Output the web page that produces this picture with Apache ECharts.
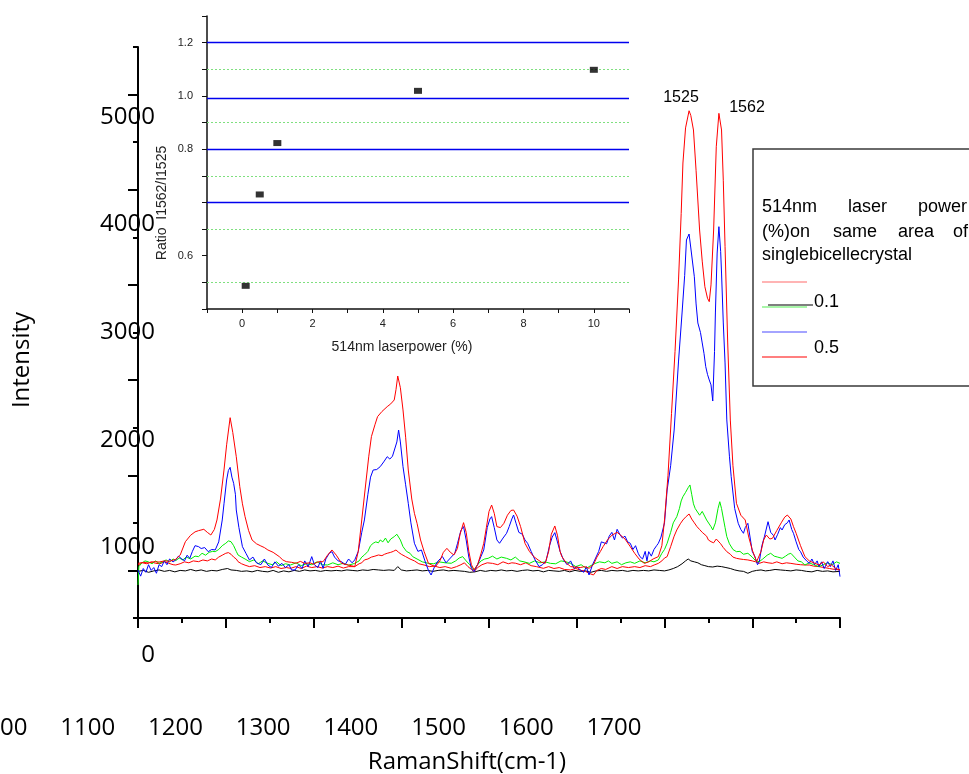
<!DOCTYPE html>
<html>
<head>
<meta charset="utf-8">
<script src="https://cdn.jsdelivr.net/npm/echarts@6/dist/echarts.min.js"></script>
<style>html,body{margin:0;padding:0;background:#fff}#c{width:969px;height:774px}</style>
</head>
<body>
<div id="c"></div>
<script>
// ---------- main spectra (Raman shift cm-1 -> intensity) ----------
const xLabelTicks = [1000, 1100, 1200, 1300, 1400, 1500, 1600, 1700];
const yLabelTicks = [0, 1000, 2000, 3000, 4000, 5000];

const redHiX = [900,906,912,918,924,930,936,943,948,954,960,965,969,975,979,983,987,990,994,998,1001,1005,1008,1012,1016,1019,1022,1026,1030,1035,1040,1044,1048,1054,1061,1065,1069,1075,1080,1085,1090,1096,1100,1105,1111,1116,1121,1126,1132,1138,1143,1147,1151,1155,1160,1163,1166,1170,1173,1178,1184,1188,1192,1194,1196,1199,1202,1205,1208,1212,1215,1218,1222,1226,1231,1235,1239,1244,1248,1252,1256,1260,1264,1267,1271,1274,1277,1280,1283,1287,1291,1294,1297,1300,1303,1306,1309,1313,1317,1321,1325,1328,1332,1336,1341,1346,1351,1356,1360,1364,1368,1371,1375,1378,1381,1383,1388,1393,1398,1404,1409,1414,1419,1423,1427,1430,1435,1440,1446,1450,1455,1461,1466,1471,1477,1482,1487,1493,1497,1500,1504,1508,1512,1516,1519,1521,1524,1528,1530,1533,1536,1540,1543,1546,1549,1551,1553,1556,1559,1562,1565,1567,1569,1572,1575,1578,1582,1587,1592,1596,1600,1605,1610,1613,1616,1620,1623,1628,1633,1637,1640,1644,1647,1650,1655,1660,1665,1670,1676,1681,1686,1690,1695,1700];
const redHiY = [574,585,578,592,588,600,596,617,660,802,870,905,918,932,900,872,930,1030,1250,1555,1820,2105,1950,1695,1380,1200,1065,920,820,780,757,740,715,690,645,610,592,585,575,595,574,580,565,590,592,660,715,660,574,560,550,540,700,1030,1450,1700,1906,2030,2116,2170,2221,2250,2291,2400,2543,2420,2186,1900,1555,1250,1100,995,820,700,574,555,540,600,690,732,690,662,730,880,1002,900,700,560,505,560,680,785,950,1120,1187,1100,960,950,995,1080,1130,1135,1070,960,785,700,645,610,585,574,700,880,967,870,700,645,580,540,535,530,540,522,560,640,700,750,820,870,900,870,830,750,680,620,574,590,620,645,760,1030,1500,2150,2800,3552,4250,4781,5150,5330,5280,5128,4700,4077,3750,3481,3360,3324,3500,4077,4952,5303,5128,4600,3902,2900,2080,1600,1205,1080,1030,850,715,592,700,820,872,830,837,920,1000,1060,1082,1040,960,890,760,645,600,580,557,590,540,560,520,505];

const blueX = [900,903,906,909,912,915,918,921,924,927,930,933,936,940,943,946,950,953,956,959,962,965,969,972,976,980,984,988,992,996,998,1001,1003,1005,1007,1009,1011,1012,1015,1019,1023,1027,1031,1035,1040,1044,1048,1052,1056,1060,1064,1068,1072,1075,1079,1083,1087,1090,1094,1098,1101,1105,1108,1111,1114,1118,1121,1124,1128,1132,1136,1140,1144,1147,1151,1155,1158,1162,1165,1168,1172,1176,1180,1184,1187,1190,1192,1195,1197,1199,1202,1205,1208,1211,1215,1219,1223,1227,1231,1234,1238,1242,1247,1251,1255,1257,1261,1264,1268,1271,1274,1277,1280,1283,1287,1291,1294,1298,1301,1303,1306,1309,1312,1316,1320,1323,1326,1328,1331,1334,1338,1341,1344,1348,1352,1357,1361,1365,1369,1372,1375,1378,1381,1385,1389,1393,1397,1400,1404,1408,1411,1414,1418,1421,1425,1428,1430,1434,1437,1440,1443,1446,1449,1452,1455,1458,1461,1464,1467,1470,1472,1475,1478,1480,1482,1485,1488,1491,1493,1496,1500,1503,1507,1511,1516,1520,1523,1525,1528,1530,1531,1534,1536,1538,1541,1543,1545,1547,1549,1551,1553,1555,1557,1558,1560,1562,1564,1565,1567,1569,1571,1574,1576,1580,1584,1587,1590,1592,1595,1598,1600,1603,1606,1608,1611,1614,1618,1621,1624,1626,1629,1632,1634,1637,1640,1642,1645,1647,1650,1653,1655,1658,1662,1665,1668,1671,1674,1676,1679,1682,1686,1689,1692,1695,1698,1700];
const blueY = [505,440,520,480,560,500,530,470,560,540,600,560,620,590,610,650,620,600,660,627,700,760,750,730,740,697,720,715,800,1030,1200,1450,1550,1583,1480,1415,1300,1135,950,750,680,610,640,580,560,620,557,530,590,545,574,530,560,505,505,560,520,600,540,645,560,530,600,522,620,680,697,640,600,592,560,620,580,610,700,900,1030,1300,1480,1555,1560,1590,1640,1695,1670,1700,1695,1850,1975,1850,1590,1400,1205,1000,785,700,715,600,500,452,540,600,645,580,620,610,680,780,920,960,820,640,520,487,560,650,715,950,1040,1065,950,820,785,840,890,960,1040,1082,990,900,880,820,785,700,620,540,560,600,760,850,897,800,700,610,560,600,520,540,505,480,540,452,560,620,700,800,820,780,860,900,820,932,880,840,860,800,785,720,760,680,645,620,700,600,697,650,720,760,785,850,1000,1345,1600,1975,2700,3205,3600,3972,4035,3888,3900,3586,3300,3100,3000,2890,2780,2641,2560,2501,2450,2280,2800,3205,3835,4112,3850,3625,3100,2680,2081,1700,1485,1150,995,930,890,950,995,820,700,645,560,592,760,860,1012,900,870,820,880,950,925,980,1000,1030,930,890,800,720,697,640,600,574,620,560,600,540,590,520,592,540,600,500,560,435];

const greenX = [900,901,904,908,912,916,920,924,928,932,936,940,943,947,951,955,960,965,969,973,977,981,985,988,992,996,1000,1003,1006,1009,1012,1014,1018,1022,1027,1032,1037,1042,1048,1053,1058,1063,1068,1074,1080,1086,1092,1098,1104,1110,1116,1122,1128,1134,1140,1147,1152,1155,1158,1162,1165,1168,1171,1174,1176,1179,1182,1185,1188,1192,1195,1197,1199,1202,1206,1210,1213,1218,1224,1231,1237,1243,1250,1257,1262,1266,1270,1274,1278,1283,1287,1291,1295,1299,1304,1309,1314,1320,1325,1330,1335,1340,1346,1352,1358,1364,1370,1376,1382,1388,1393,1399,1405,1411,1414,1420,1426,1432,1436,1440,1446,1451,1456,1461,1466,1472,1478,1484,1488,1493,1497,1500,1503,1507,1510,1514,1517,1519,1521,1524,1527,1529,1531,1533,1535,1537,1540,1543,1545,1548,1550,1553,1555,1558,1561,1563,1565,1567,1569,1571,1574,1578,1582,1586,1590,1595,1600,1604,1608,1612,1617,1621,1625,1629,1634,1638,1641,1644,1648,1652,1656,1660,1665,1670,1676,1681,1686,1691,1696,1700];
const greenY = [347,540,574,600,590,570,600,574,590,610,590,620,603,630,610,640,620,650,645,680,660,690,700,697,720,760,785,810,802,760,700,662,640,620,592,610,570,600,574,560,590,550,570,557,580,550,570,560,590,560,557,580,560,575,555,574,600,640,662,700,760,785,800,790,820,800,840,790,830,855,880,900,820,750,700,680,645,620,590,574,570,590,580,575,600,630,645,600,560,505,560,600,620,627,650,620,640,627,610,640,600,590,574,600,580,590,574,570,600,590,574,540,560,520,540,570,590,580,600,574,590,560,580,590,574,600,580,600,590,610,680,720,785,900,1000,1065,1150,1230,1275,1320,1370,1398,1300,1200,1150,1135,1080,1120,1100,1030,1050,960,925,1000,1150,1222,1150,1050,950,855,780,720,697,700,670,680,640,600,592,620,660,680,650,640,627,650,670,680,640,600,590,557,580,560,540,560,580,560,590,574];

const redLoX = [900,905,910,915,920,925,930,935,940,943,948,953,958,963,969,974,979,984,988,992,996,1000,1003,1006,1009,1012,1014,1018,1022,1027,1033,1039,1045,1051,1057,1063,1069,1074,1080,1086,1092,1098,1104,1110,1116,1122,1128,1134,1140,1147,1152,1155,1158,1162,1166,1170,1174,1178,1181,1184,1188,1191,1194,1197,1200,1205,1210,1215,1220,1226,1232,1238,1244,1250,1257,1263,1268,1272,1276,1280,1283,1287,1292,1298,1304,1310,1316,1322,1326,1330,1336,1342,1348,1354,1362,1368,1374,1380,1386,1393,1399,1405,1410,1414,1419,1423,1428,1433,1440,1446,1452,1459,1466,1472,1478,1484,1489,1493,1497,1500,1503,1507,1511,1514,1518,1521,1524,1528,1531,1534,1537,1540,1543,1545,1548,1550,1553,1556,1559,1561,1564,1567,1571,1575,1578,1582,1586,1590,1595,1600,1604,1608,1613,1618,1623,1628,1634,1639,1644,1650,1655,1660,1665,1670,1676,1682,1688,1694,1700];
const redLoY = [557,580,570,590,575,570,590,575,560,557,570,590,580,600,592,610,600,620,610,640,660,680,687,670,640,620,592,570,555,540,550,530,540,525,540,520,530,522,540,520,545,530,540,525,540,530,545,525,540,540,570,580,610,620,640,650,662,655,670,680,690,700,715,690,670,645,620,600,570,557,540,545,530,540,522,540,560,580,540,510,487,530,560,580,574,560,590,570,580,576,560,580,550,540,522,540,520,530,510,505,520,500,490,470,452,500,520,510,540,520,540,530,540,530,550,540,560,574,600,630,645,750,860,925,990,1030,1060,1093,1040,1000,960,930,900,890,860,820,802,790,830,820,780,740,697,670,640,627,620,615,610,600,590,574,590,580,574,590,570,580,574,565,560,557,557,545,540,530,520,510,505];

const blackX = [900,906,912,918,924,930,936,942,948,954,960,966,972,978,984,990,996,1002,1006,1012,1018,1024,1030,1036,1042,1048,1054,1060,1066,1072,1078,1084,1090,1096,1102,1108,1114,1120,1126,1132,1138,1144,1150,1156,1162,1168,1174,1180,1186,1192,1196,1200,1206,1212,1218,1224,1230,1236,1242,1248,1254,1260,1266,1272,1278,1284,1290,1296,1302,1308,1314,1320,1326,1332,1338,1344,1350,1356,1362,1368,1374,1380,1386,1392,1398,1404,1410,1416,1422,1428,1434,1440,1446,1452,1458,1464,1470,1476,1482,1488,1494,1500,1505,1510,1515,1520,1524,1527,1530,1534,1538,1542,1546,1550,1555,1560,1565,1570,1575,1580,1585,1590,1595,1600,1605,1610,1615,1620,1626,1632,1638,1644,1650,1656,1662,1668,1674,1680,1686,1692,1700];
const blackY = [490,500,480,495,505,490,500,485,500,495,510,495,505,490,500,495,510,520,505,500,490,495,485,500,490,485,500,480,495,485,500,490,505,495,500,490,500,495,500,495,505,500,495,505,500,510,505,500,505,500,540,505,495,500,505,495,500,490,500,505,495,500,495,490,480,485,500,490,500,495,505,495,500,490,500,505,495,500,485,500,495,490,500,485,500,490,495,480,495,500,490,500,495,500,490,500,495,500,495,505,500,495,505,520,540,570,600,620,600,590,580,560,550,540,536,545,540,530,520,505,495,490,470,490,500,505,495,500,510,505,500,495,505,500,490,485,500,490,495,485,490];

// ---------- inset: ratio vs laser power ----------
const insetPower = [0.1, 0.5, 1, 5, 10];
const insetRatio = [0.287, 0.630, 0.823, 1.019, 1.098];
const insetBlueLines = [1.2, 0.99, 0.8, 0.6];
const insetGreenLines = [1.1, 0.9, 0.7, 0.5, 0.3];
const insetXLabels = [0, 2, 4, 6, 8, 10];
// tick-label text drawn at each tick position (as in the source picture)
const insetYLabelAt = {12: '1.2', 10: '1.0', 8: '0.8', 4: '0.6'};

const pairs = (xs, ys) => xs.map((x, i) => [x, ys[i]]);
const lineSeries = (name, xs, ys, color) => ({
  type: 'line', name, xAxisIndex: 0, yAxisIndex: 0, data: pairs(xs, ys),
  showSymbol: false, symbol: 'none', lineStyle: {color, width: 1}, itemStyle: {color},
  animation: false, silent: true, clip: true
});

const hidden = {show: false};
const chart = echarts.init(document.getElementById('c'), null, {renderer: 'canvas'});
const black = '#000';
const mainFont = 'Open Sans';
const insetFont = 'Liberation Sans, Arial, sans-serif';
const lf = '18px "Liberation Sans"';
const legText = (x, y, t) => ({type: 'text', x, y, style: {text: t, font: lf, fill: black, verticalAlign: 'middle'}});
const legLine = (x1, x2, y, c) => ({type: 'line', shape: {x1, y1: y, x2, y2: y}, style: {stroke: c, lineWidth: 1.2}});

chart.setOption({
  animation: false,
  backgroundColor: '#fff',
  grid: [
    {left: 138, top: 47, width: 702, height: 571, outerBoundsMode: 'none', containLabel: false},   // main plot
    {left: 0, top: 600, width: 614, height: 104, outerBoundsMode: 'none', containLabel: false},    // x tick labels (shifted, as in source)
    {left: 157, top: 117, width: 600, height: 538, outerBoundsMode: 'none', containLabel: false},  // y tick labels (shifted, as in source)
    {left: 207, top: 16, width: 422, height: 293, outerBoundsMode: 'none', containLabel: false}    // inset
  ],
  xAxis: [
    {gridIndex: 0, type: 'value', min: 900, max: 1700, interval: 100,
     axisLine: {lineStyle: {color: black, width: 2}},
     axisTick: {length: 10, lineStyle: {color: black, width: 2}},
     minorTick: {show: true, splitNumber: 2, length: 5, lineStyle: {color: black, width: 2}},
     axisLabel: hidden, splitLine: hidden},
    {gridIndex: 1, type: 'value', min: xLabelTicks[0], max: xLabelTicks[xLabelTicks.length - 1], interval: 100,
     axisLine: hidden, axisTick: hidden, splitLine: hidden,
     axisLabel: {margin: 12, fontSize: 24, fontFamily: mainFont, color: black, formatter: v => String(v)}},
    {gridIndex: 2, type: 'value', show: false},
    {gridIndex: 3, type: 'value', min: -1, max: 11, interval: 1,
     axisLine: {onZero: false, lineStyle: {color: '#111', width: 1.5}},
     axisTick: {length: 4, lineStyle: {color: '#111'}},
     axisLabel: {margin: 9, fontSize: 11, fontFamily: insetFont, color: '#222',
       formatter: v => insetXLabels.includes(v) ? String(v) : ''},
     splitLine: hidden}
  ],
  yAxis: [
    {gridIndex: 0, type: 'value', min: 0, max: 6000, interval: 1000,
     axisLine: {show: true, lineStyle: {color: black, width: 2}},
     axisTick: {length: 5, lineStyle: {color: black, width: 2}},
     axisLabel: hidden, splitLine: hidden},
    {gridIndex: 0, type: 'value', min: 0, max: 6000, position: 'left',
     axisLine: hidden,
     axisTick: {show: true, length: 10, lineStyle: {color: black, width: 2},
       customValues: [500, 1500, 2500, 3500, 4500, 5500]},
     axisLabel: hidden, splitLine: hidden},
    {gridIndex: 1, type: 'value', show: false},
    {gridIndex: 2, type: 'value', min: yLabelTicks[0], max: yLabelTicks[yLabelTicks.length - 1], interval: 1000,
     axisLine: hidden, axisTick: hidden, splitLine: hidden,
     axisLabel: {margin: 2, fontSize: 24, fontFamily: mainFont, color: black, formatter: v => String(v)}},
    {gridIndex: 3, type: 'value', min: 0.2, max: 1.3, interval: 0.1,
     axisLine: {onZero: false, lineStyle: {color: '#111', width: 1.5}},
     axisTick: {length: 5, lineStyle: {color: '#111'}},
     axisLabel: {margin: 14, fontSize: 11, fontFamily: insetFont, color: '#222',
       formatter: v => insetYLabelAt[Math.round(v * 10)] || ''},
     splitLine: hidden}
  ],
  series: [
    lineSeries('0.1 %', blackX, blackY, '#000000'),
    lineSeries('0.5 %', redLoX, redLoY, '#ff0000'),
    lineSeries('1 %', greenX, greenY, '#00ee00'),
    lineSeries('5 %', blueX, blueY, '#0000ff'),
    lineSeries('10 %', redHiX, redHiY, '#ff0000'),
    {type: 'scatter', name: 'ratio', xAxisIndex: 3, yAxisIndex: 4,
     data: pairs(insetPower, insetRatio), symbol: 'rect', symbolSize: [8, 6],
     itemStyle: {color: '#000'}, silent: true, z: 5,
     markLine: {silent: true, symbol: ['none', 'none'], label: {show: false}, animation: false,
       data: insetBlueLines.map(v => ({yAxis: v, lineStyle: {color: '#0000ee', width: 1.3, type: 'solid'}}))
         .concat(insetGreenLines.map(v => ({yAxis: v, lineStyle: {color: '#7fe07f', width: 1, type: [2, 2]}})))}
    }
  ],
  graphic: [
    {type: 'text', x: 22, y: 360, rotation: Math.PI / 2,
     style: {text: 'Intensity', font: '24px "Open Sans"', fill: black, align: 'center', verticalAlign: 'middle'}},
    {type: 'text', x: 467, y: 762,
     style: {text: 'RamanShift(cm-1)', font: '24px "Open Sans"', fill: black, align: 'center', verticalAlign: 'middle'}},
    {type: 'text', x: 162, y: 203, rotation: Math.PI / 2,
     style: {text: 'Ratio  I1562/I1525', font: '14px "Liberation Sans"', fill: '#222', align: 'center', verticalAlign: 'middle'}},
    {type: 'text', x: 402, y: 347,
     style: {text: '514nm laserpower (%)', font: '14px "Liberation Sans"', fill: '#222', align: 'center', verticalAlign: 'middle'}},
    {type: 'text', x: 681, y: 98,
     style: {text: '1525', font: '16px "Liberation Sans"', fill: black, align: 'center', verticalAlign: 'middle'}},
    {type: 'text', x: 747, y: 108,
     style: {text: '1562', font: '16px "Liberation Sans"', fill: black, align: 'center', verticalAlign: 'middle'}},
    {type: 'rect', shape: {x: 753, y: 149, width: 260, height: 237},
     style: {fill: '#fff', stroke: '#3a3a3a', lineWidth: 1.5}},
    legText(762, 207, '514nm'), legText(848, 207, 'laser'), legText(918, 207, 'power'),
    legText(762, 232, '(%)on'), legText(833, 232, 'same'), legText(898, 232, 'area'), legText(953, 232, 'of'),
    legText(762, 255, 'singlebicellecrystal'),
    legLine(762, 807, 282, '#ff6a6a'),
    legLine(762, 807, 307, '#55ee55'),
    legLine(768, 813, 305, '#000000'),
    legText(814, 302, '0.1'),
    legLine(762, 807, 332, '#4a4aff'),
    legLine(762, 807, 357, '#ff0000'),
    legText(814, 348, '0.5')
  ]
});
</script>
</body>
</html>
